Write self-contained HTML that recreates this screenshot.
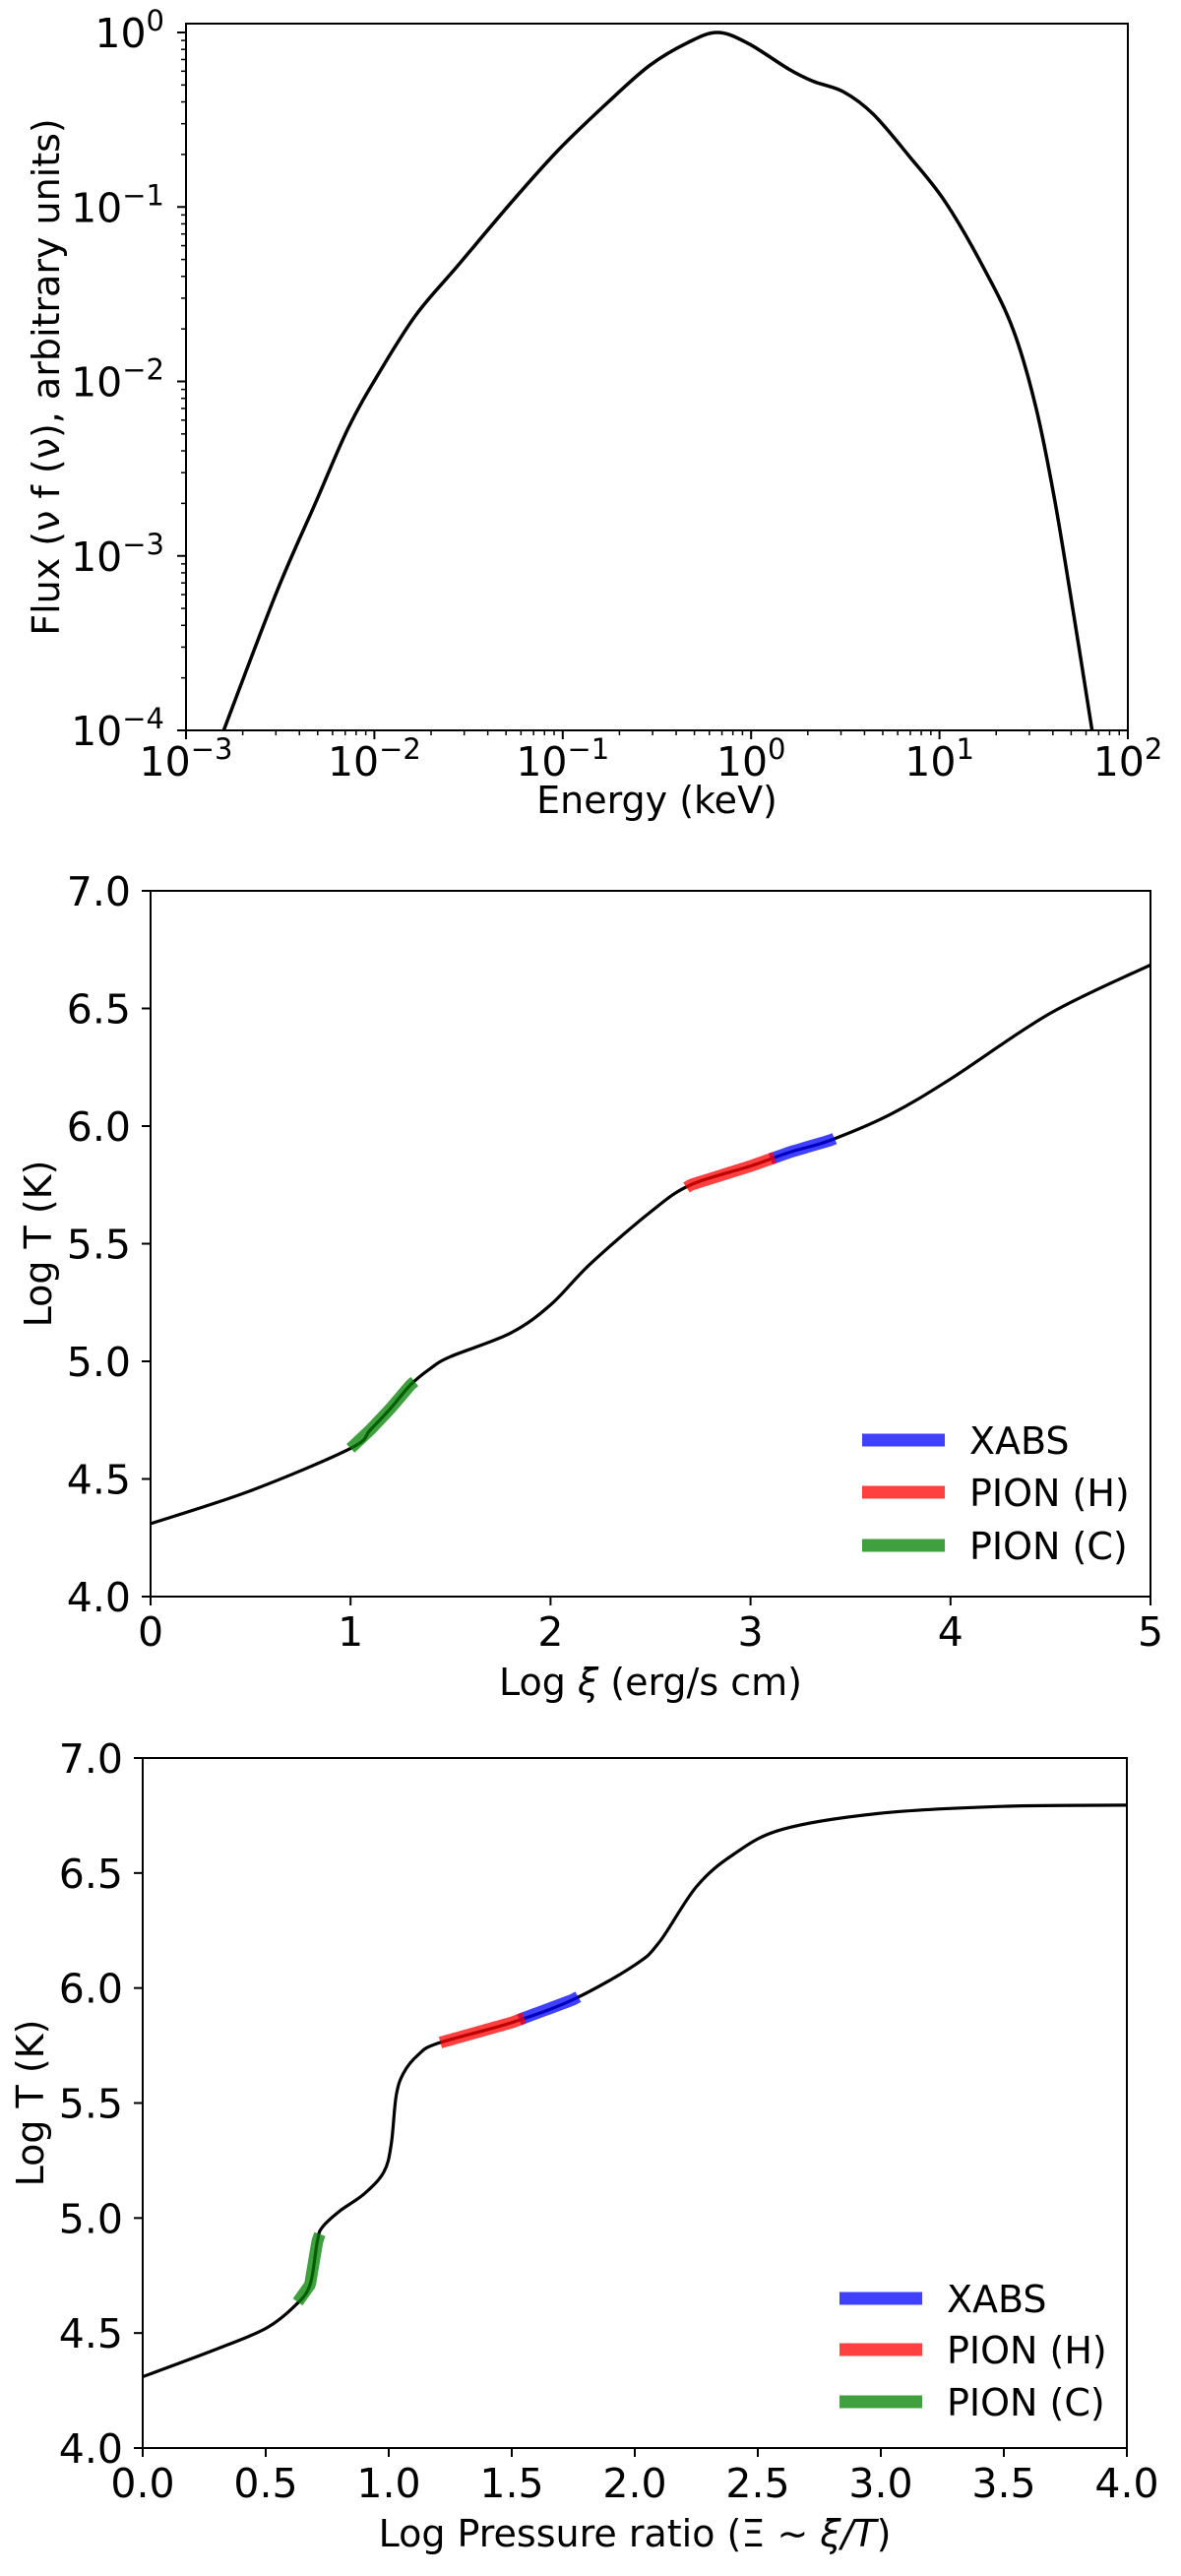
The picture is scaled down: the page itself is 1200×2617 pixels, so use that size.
<!DOCTYPE html>
<html><head><meta charset="utf-8">
<style>
html,body{margin:0;padding:0;background:#fff;}
svg{display:block;font-family:"DejaVu Sans","Liberation Sans",sans-serif;}
</style></head>
<body>
<svg id="fig" width="1200" height="2617" viewBox="0 0 1200 2617" xmlns="http://www.w3.org/2000/svg"></svg>
<script>
// ---- Chart 1: SED (log-log)
const sedLogE = [-2.80,-2.52,-2.31,-2.14,-1.98,-1.78,-1.56,-1.27,-1.02,-0.76,-0.54,-0.34,-0.18,-0.02,0.20,0.33,0.49,0.65,0.84,1.03,1.23,1.39,1.51,1.61,1.71,1.81];
const sedLogF = [-4.0,-3.21,-2.69,-2.27,-1.96,-1.62,-1.34,-0.97,-0.67,-0.40,-0.19,-0.06,0,-0.06,-0.21,-0.28,-0.34,-0.47,-0.71,-0.97,-1.34,-1.70,-2.14,-2.67,-3.32,-4.0];
const sedXTickExp = [-3,-2,-1,0,1,2];
const sedYTickExp = [-4,-3,-2,-1,0];
// ---- Chart 2: T vs log xi
const xiX = [0,0.5,1,1.1,1.2,1.3,1.4,1.5,1.8,2,2.2,2.5,2.7,3,3.2,3.4,3.7,4,4.5,5];
const xiT = [4.31,4.45,4.63,4.71,4.80,4.90,4.97,5.02,5.12,5.24,5.415,5.635,5.75,5.83,5.89,5.94,6.05,6.20,6.48,6.685];
const xiTicksX = [0,1,2,3,4,5];
const tTicks = [4.0,4.5,5.0,5.5,6.0,6.5,7.0];
// ---- Chart 3: T vs log pressure ratio
const prX = [0,0.3,0.5,0.62,0.68,0.71,0.73,0.8,0.9,0.98,1.01,1.03,1.06,1.12,1.2,1.5,1.75,2.0,2.1,2.25,2.4,2.6,3.0,3.5,4.0];
const prT = [4.31,4.43,4.52,4.62,4.71,4.90,4.96,5.03,5.105,5.20,5.32,5.53,5.63,5.71,5.76,5.85,5.95,6.10,6.20,6.44,6.58,6.69,6.76,6.79,6.795];
const prTicksX = [0,0.5,1.0,1.5,2.0,2.5,3.0,3.5,4.0];
// ---- Highlighted ranges
const segNames = ["XABS","PION (H)","PION (C)"];
const segColors = ["rgba(0,0,255,0.75)","rgba(255,0,0,0.75)","rgba(0,128,0,0.75)"];
const xiSegFrom = [3.1,2.68,1.0];
const xiSegTo = [3.42,3.12,1.32];
const prSegFrom = [1.53,1.21,0.63];
const prSegTo = [1.77,1.55,0.72];

const NS="http://www.w3.org/2000/svg";
const svg=document.getElementById('fig');
function mk(tag,attrs,parent){const e=document.createElementNS(NS,tag);for(const k in attrs)e.setAttribute(k,attrs[k]);(parent||svg).appendChild(e);return e;}
function smoothPath(pts){let d=`M${pts[0][0]},${pts[0][1]}`;for(let i=0;i<pts.length-1;i++){const p0=pts[Math.max(0,i-1)],p1=pts[i],p2=pts[i+1],p3=pts[Math.min(pts.length-1,i+2)];const c1=[p1[0]+(p2[0]-p0[0])/6,p1[1]+(p2[1]-p0[1])/6];const c2=[p2[0]-(p3[0]-p1[0])/6,p2[1]-(p3[1]-p1[1])/6];d+=` C${c1[0]},${c1[1]} ${c2[0]},${c2[1]} ${p2[0]},${p2[1]}`;}return d;}
function interp(xs,ys,x){for(let i=0;i<xs.length-1;i++){if(x>=xs[i]&&x<=xs[i+1]){const t=(x-xs[i])/(xs[i+1]-xs[i]);return ys[i]+t*(ys[i+1]-ys[i]);}}return ys[ys.length-1];}

// ===== Chart 1 =====
(function(){
  const L=189,R=1146,T=24,B=742;
  const sx=v=>L+(v+3)*(R-L)/5;
  const sy=v=>33+(-v)*177.25;
  const g=mk('g',{});
  
  
  const frame=mk('rect',{x:L,y:T,width:R-L,height:B-T,fill:'none',stroke:'#000','stroke-width':2},g);
  
  
  sedXTickExp.forEach(e=>{
    const x=sx(e);
    mk('line',{x1:x,y1:B,x2:x,y2:B+9,stroke:'#000','stroke-width':2},g);
    const t=mk('text',{x:x,y:B+46,'font-size':41,'text-anchor':'middle'},g);
    
    
    t.innerHTML=`10<tspan dy="-17" font-size="29">${e<0?'\u2212'+(-e):e}</tspan>`;
    if(e<2){for(let m=2;m<10;m++){const xm=sx(e+Math.log10(m));mk('line',{x1:xm,y1:B,x2:xm,y2:B+5,stroke:'#000','stroke-width':1.5},g);}}
  });
  sedYTickExp.forEach(e=>{
    const y=sy(e);
    mk('line',{x1:L,y1:y,x2:L-9,y2:y,stroke:'#000','stroke-width':2},g);
    const t=mk('text',{x:L-22,y:y+15,'font-size':41,'text-anchor':'end'},g);
    
    
    t.innerHTML=`10<tspan dy="-17" font-size="29">${e<0?'\u2212'+(-e):e}</tspan>`;
    for(let m=2;m<10;m++){const lv=e+Math.log10(m);if(lv>0.05)break;const ym=sy(lv);mk('line',{x1:L,y1:ym,x2:L-5,y2:ym,stroke:'#000','stroke-width':1.5},g);}
  });
  const pts=sedLogE.map((v,i)=>[sx(v),sy(sedLogF[i])]);
  const p=mk('path',{d:smoothPath(pts),fill:'none',stroke:'#000','stroke-width':3.5},g);
  
  
  const xl=mk('text',{x:(L+R)/2,y:826,'font-size':38,'text-anchor':'middle'},g);
  
  
  xl.textContent='Energy (keV)';
  const yl=mk('text',{x:0,y:0,'font-size':38,'text-anchor':'middle',transform:`translate(60,${(T+B)/2}) rotate(-90)`},g);
  
  
  yl.textContent='Flux (\u03bd f (\u03bd), arbitrary units)';
})();

function linChart(o){
  const {L,R,T,B,xmin,xmax,xs,ys,ticksX,fmtX,segFrom,segTo,legX,legY,xlabel,ylabelX,name}=o;
  const sx=v=>L+(v-xmin)*(R-L)/(xmax-xmin);
  const sy=v=>B-(v-4)*(B-T)/3;
  const g=mk('g',{});
  
  
  const frame=mk('rect',{x:L,y:T,width:R-L,height:B-T,fill:'none',stroke:'#000','stroke-width':2},g);
  
  
  ticksX.forEach(v=>{
    const x=sx(v);
    mk('line',{x1:x,y1:B,x2:x,y2:B+9,stroke:'#000','stroke-width':2},g);
    const t=mk('text',{x:x,y:B+50,'font-size':41,'text-anchor':'middle'},g);
    
    
    t.textContent=fmtX(v);
  });
  tTicks.forEach(v=>{
    const y=sy(v);
    mk('line',{x1:L,y1:y,x2:L-9,y2:y,stroke:'#000','stroke-width':2},g);
    const t=mk('text',{x:L-20,y:y+15,'font-size':41,'text-anchor':'end'},g);
    
    
    t.textContent=v.toFixed(1);
  });
  const pts=xs.map((v,i)=>[sx(v),sy(ys[i])]);
  const p=mk('path',{d:smoothPath(pts),fill:'none',stroke:'#000','stroke-width':3.2},g);
  
  
  segNames.forEach((n,k)=>{
    const N=30,sp=[];
    for(let i=0;i<=N;i++){const xv=segFrom[k]+(segTo[k]-segFrom[k])*i/N;sp.push([sx(xv),sy(interp(xs,ys,xv))]);}
    const s=mk('polyline',{points:sp.map(q=>q.join(',')).join(' '),fill:'none',stroke:segColors[k],'stroke-width':12},g);
    
    
    const ly=legY[k];
    const ll=mk('line',{x1:legX,y1:ly,x2:legX+84,y2:ly,stroke:segColors[k],'stroke-width':13},g);
    
    
    const lt=mk('text',{x:legX+109,y:ly+14,'font-size':38},g);
    
    
    lt.textContent=n;
  });
  const xl=mk('text',{x:(L+R)/2,y:B+100,'font-size':38,'text-anchor':'middle'},g);
  
  
  xl.innerHTML=xlabel;
  const yl=mk('text',{x:0,y:0,'font-size':38,'text-anchor':'middle',transform:`translate(${ylabelX},${(T+B)/2}) rotate(-90)`},g);
  
  
  yl.textContent='Log T (K)';
}
linChart({name:'temperature-vs-xi-chart',L:153,R:1169,T:905,B:1622,xmin:0,xmax:5,xs:xiX,ys:xiT,ticksX:xiTicksX,fmtX:v=>String(v),
  segFrom:xiSegFrom,segTo:xiSegTo,legX:876,legY:[1463,1516,1570],
  xlabel:'Log <tspan font-style="italic">\u03be</tspan> (erg/s cm)',ylabelX:52});
linChart({name:'temperature-vs-pressure-chart',L:145,R:1145,T:1786,B:2487,xmin:0,xmax:4,xs:prX,ys:prT,ticksX:prTicksX,fmtX:v=>v.toFixed(1),
  segFrom:prSegFrom,segTo:prSegTo,legX:853,legY:[2335,2387,2440],
  xlabel:'Log Pressure ratio (\u039e \u223c <tspan font-style="italic">\u03be/T</tspan>)',ylabelX:44});
</script>
</body></html>
